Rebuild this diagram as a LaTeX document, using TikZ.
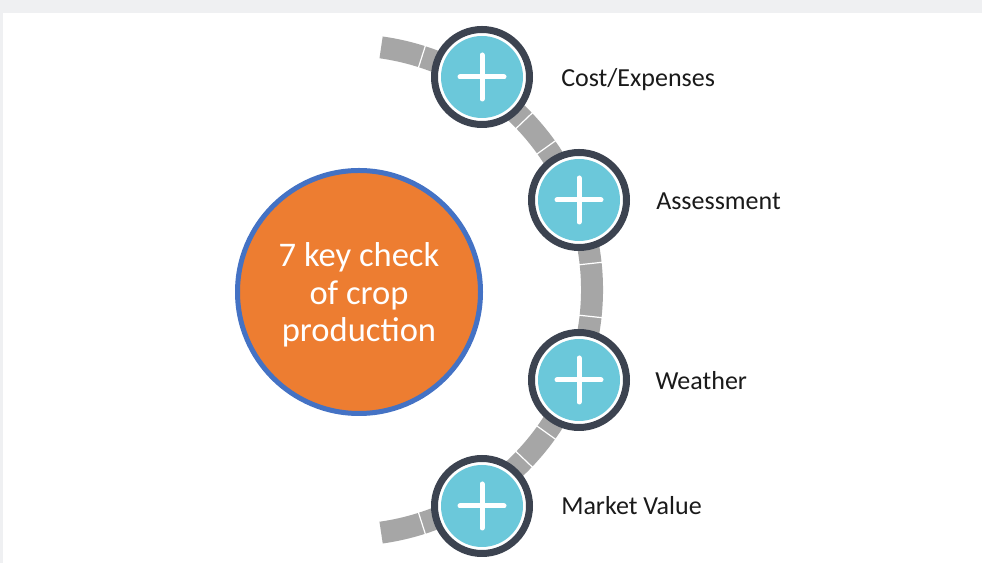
\documentclass[tikz,border=0pt]{standalone}
\usepackage{fontspec}
\setmainfont{Carlito}
\usetikzlibrary{calc}
\definecolor{bggray}{HTML}{EFF0F2}
\definecolor{bandgray}{HTML}{A6A6A6}
\definecolor{ringdark}{HTML}{3C4350}
\definecolor{plcyan}{HTML}{6BC8DA}
\definecolor{hubfill}{HTML}{ED7D31}
\definecolor{hubline}{HTML}{4472C4}
\definecolor{labeltext}{HTML}{1A1A1A}
\tikzset{
  band/.style={draw=bandgray, line width=16.5pt},
  tick/.style={draw=white, line width=0.9pt},
  pluscirc/.style={circle, minimum size=71.25pt, inner sep=0pt, draw=ringdark, line width=5.25pt, fill=white,
    path picture={
      \fill[plcyan] (path picture bounding box.center) circle (41);
      \draw[white, line width=3.75pt, line cap=round]
        ($(path picture bounding box.center)+(-22,0)$) -- ($(path picture bounding box.center)+(22,0)$)
        ($(path picture bounding box.center)+(0,-22)$) -- ($(path picture bounding box.center)+(0,22)$);
    }},
  lbl/.style={anchor=base west, inner sep=0pt, font=\fontsize{19.5pt}{23pt}\selectfont, text=labeltext},
  hub/.style={circle, minimum size=182.25pt, inner sep=0pt, draw=hubline, line width=3.75pt, fill=hubfill,
    text=white, align=center, font=\fontsize{25.9pt}{28.2pt}\selectfont}
}
\begin{document}
\begin{tikzpicture}[x=0.75pt, y=0.75pt]
\useasboundingbox (0,0) rectangle (982,563);
\fill[bggray] (0,0) rectangle (982,563);
\fill[white] (3,0) rectangle (982,550);
\coordinate (C) at (347,273);
% band
\draw[band] ($(C)+(82:245)$) arc[start angle=82, end angle=-82, radius=245];
\foreach \a in {72.2,43.7,35.6,6.2,-6.2,-35.6,-43.7,-72.2}
  \draw[tick] ($(C)+(\a:233)$) -- ($(C)+(\a:257)$);
% hub
\node[hub] (hub) at (359,271) {};
\node[text=white, align=center, inner sep=0pt, font=\fontsize{25.9pt}{28.2pt}\selectfont] (hubtext) at (359,268) {7 key check\\of crop\\production};
% plus circles
\node[pluscirc] (c1) at (482,486) {};
\node[pluscirc] (c2) at (579,363) {};
\node[pluscirc] (c3) at (579,183) {};
\node[pluscirc] (c4) at (482,57) {};
% labels
\node[lbl] (l1) at (561,476) {Cost/Expenses};
\node[lbl] (l2) at (656,353) {Assessment};
\node[lbl] (l3) at (655,173) {Weather};
\node[lbl] (l4) at (561,48) {Market Value};
\end{tikzpicture}
\end{document}
